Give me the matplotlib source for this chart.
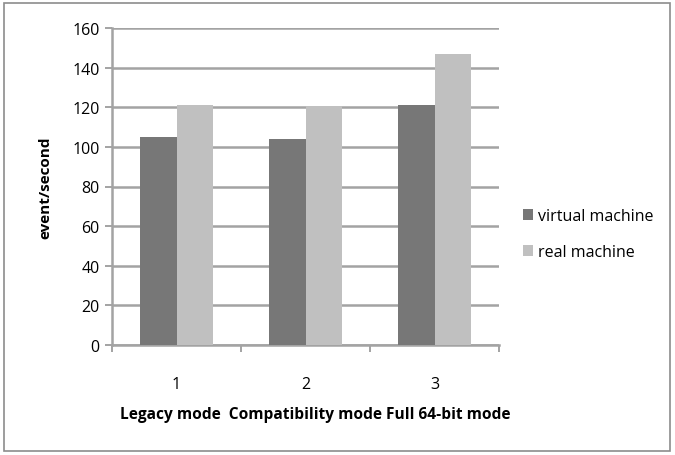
import matplotlib
matplotlib.use("Agg")
import matplotlib.pyplot as plt
import numpy as np
from matplotlib.patches import Rectangle

categories = ["1", "2", "3"]
virtual_machine = [105, 104, 121]
real_machine = [121, 120.5, 147]
x_title = "Legacy mode  Compatibility mode Full 64-bit mode"

plt.rcParams["font.family"] = ["Open Sans", "DejaVu Sans"]
grid_col = "#a3a3a3"

fig = plt.figure(figsize=(6.75, 4.56), dpi=100)
ax = fig.add_axes([112 / 675, 1 - 346 / 456, 387 / 675, 317 / 456])

x = np.arange(len(categories))
w = 0.285
ax.bar(x - w / 2, virtual_machine, w, color="#777777", label="virtual machine", zorder=3)
ax.bar(x + w / 2, real_machine, w, color="#c0c0c0", label="real machine", zorder=3)

ax.set_xlim(-0.5, 2.5)
ax.set_ylim(0, 160)
ax.set_yticks(range(0, 161, 20))
ax.yaxis.grid(True, color=grid_col, lw=1.8, zorder=0)
ax.set_xticks(x)
ax.set_xticklabels(categories, fontsize=11.5)
ax.set_xticks([-0.5, 0.5, 1.5, 2.5], minor=True)
ax.tick_params(axis="x", which="major", length=0, pad=22)
ax.tick_params(axis="x", which="minor", length=5, color=grid_col, width=1.4)
ax.tick_params(axis="y", length=5, color=grid_col, width=1.4, labelsize=11.5, pad=4)
for s in ["top", "right"]:
    ax.spines[s].set_visible(False)
for s in ["left", "bottom"]:
    ax.spines[s].set_color(grid_col)
    ax.spines[s].set_linewidth(1.8)

ax.set_ylabel("event/second", fontsize=11, fontweight="bold", labelpad=14)
fig.text(315 / 675, 1 - 415 / 456, x_title, fontsize=11.2, fontweight="bold",
         ha="center", va="center")

ax.legend(loc="center left", bbox_to_anchor=(1.025, 0.35), frameon=False,
          fontsize=11.5, handlelength=0.65, handleheight=0.65, handletextpad=0.3,
          labelspacing=1.25)

fig.add_artist(Rectangle((4 / 675, 4 / 456), 666 / 675, 448 / 456,
                         transform=fig.transFigure, fill=False,
                         edgecolor="#8c8c8c", lw=1.2))

fig.savefig("out.png", dpi=100)
